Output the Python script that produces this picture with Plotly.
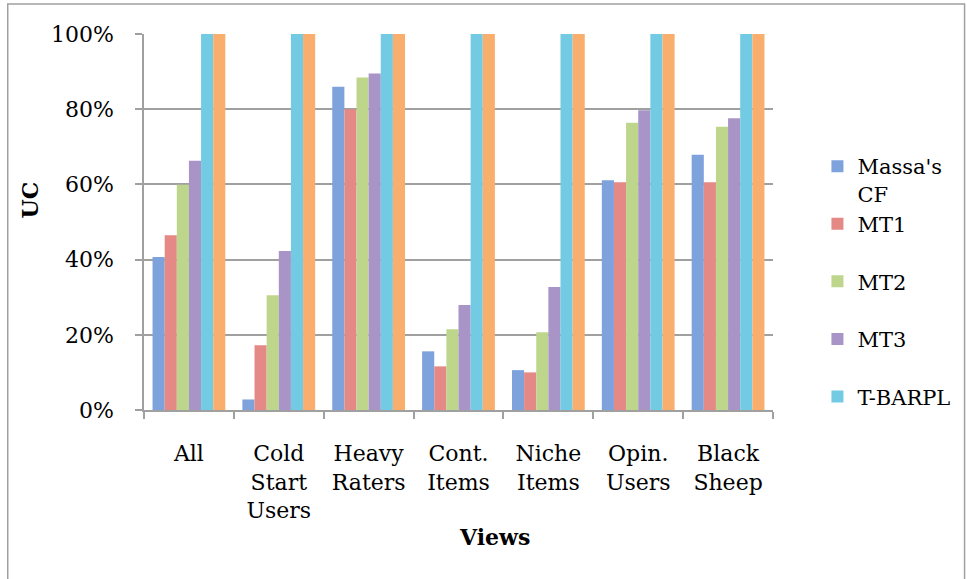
import plotly.graph_objects as go

categories = ["All", "Cold<br>Start<br>Users", "Heavy<br>Raters", "Cont.<br>Items",
              "Niche<br>Items", "Opin.<br>Users", "Black<br>Sheep"]
series_names = ["Massa's<br>CF", "MT1<br>&nbsp;", "MT2<br>&nbsp;", "MT3<br>&nbsp;", "T-BARPL<br>&nbsp;", "MT4"]
massa = [0.407, 0.028, 0.860, 0.156, 0.106, 0.611, 0.679]
mt1 = [0.465, 0.172, 0.800, 0.116, 0.100, 0.606, 0.606]
mt2 = [0.599, 0.305, 0.884, 0.215, 0.207, 0.764, 0.753]
mt3 = [0.663, 0.423, 0.895, 0.279, 0.327, 0.797, 0.776]
tbarpl = [1.0, 1.0, 1.0, 1.0, 1.0, 1.0, 1.0]
mt4 = [1.0, 1.0, 1.0, 1.0, 1.0, 1.0, 1.0]
series_values = [massa, mt1, mt2, mt3, tbarpl, mt4]
colors = ["#7ea2dc", "#e48985", "#bdd68b", "#a994c7", "#73cbe3", "#f9ae6e"]
show_legend = [True, True, True, True, True, False]

FONT = "DejaVu Serif"
FS = 22
W, H = 967, 579
L, R, T, B = 144, 781, 34, 410

fig = go.Figure()
for i, (name, vals) in enumerate(zip(series_names, series_values)):
    fig.add_trace(go.Bar(
        x=categories, y=vals, name=name,
        marker=dict(color=colors[i], line=dict(width=0)),
        showlegend=show_legend[i],
    ))

pw, ph = R - L, B - T
def px(x):
    return (x - L) / pw
def py(y):
    return (B - y) / ph

fig.update_layout(
    width=W, height=H,
    margin=dict(l=L, r=W - R, t=T, b=H - B),
    barmode="group", bargap=0.19, bargroupgap=0,
    plot_bgcolor="white", paper_bgcolor="white",
    font=dict(family=FONT, size=FS, color="black"),
    legend=dict(
        x=px(826), y=py(146), xanchor="left", yanchor="top",
        font=dict(family=FONT, size=21, color="black"),
        valign="top", bgcolor="rgba(0,0,0,0)", itemwidth=30,
    ),
    xaxis=dict(
        showline=True, linecolor="#a0a0a0", linewidth=1.5,
        ticks="outside", ticklen=7, tickcolor="#a0a0a0", tickwidth=1.5,
        tickson="boundaries", showgrid=False,
        tickfont=dict(family=FONT, size=FS, color="black"),
        ticklabelstandoff=23,
    ),
    yaxis=dict(
        range=[0, 1], dtick=0.2, tickformat=".0%",
        showline=True, linecolor="#a0a0a0", linewidth=1.5,
        ticks="outside", ticklen=7, tickcolor="#a0a0a0", tickwidth=1.5,
        showgrid=True, gridcolor="#a0a0a0", gridwidth=1.5,
        zeroline=False,
        tickfont=dict(family=FONT, size=FS, color="black"),
        ticklabelstandoff=17,
    ),
    annotations=[
        dict(text="<b>UC</b>", xref="paper", yref="paper", x=px(29), y=py(200),
             textangle=-90, showarrow=False, font=dict(family=FONT, size=FS, color="black"),
             xanchor="center", yanchor="middle"),
        dict(text="<b>Views</b>", xref="paper", yref="paper", x=px(499), y=py(537),
             showarrow=False, font=dict(family=FONT, size=FS, color="black"),
             xanchor="center", yanchor="middle"),
    ],
    shapes=[
        dict(type="rect", xref="paper", yref="paper",
             x0=px(6), x1=px(975), y0=py(590), y1=py(4),
             line=dict(color="#a0a0a0", width=1.5), fillcolor="rgba(0,0,0,0)",
             layer="below"),
    ],
)

fig.write_html("out.html")
